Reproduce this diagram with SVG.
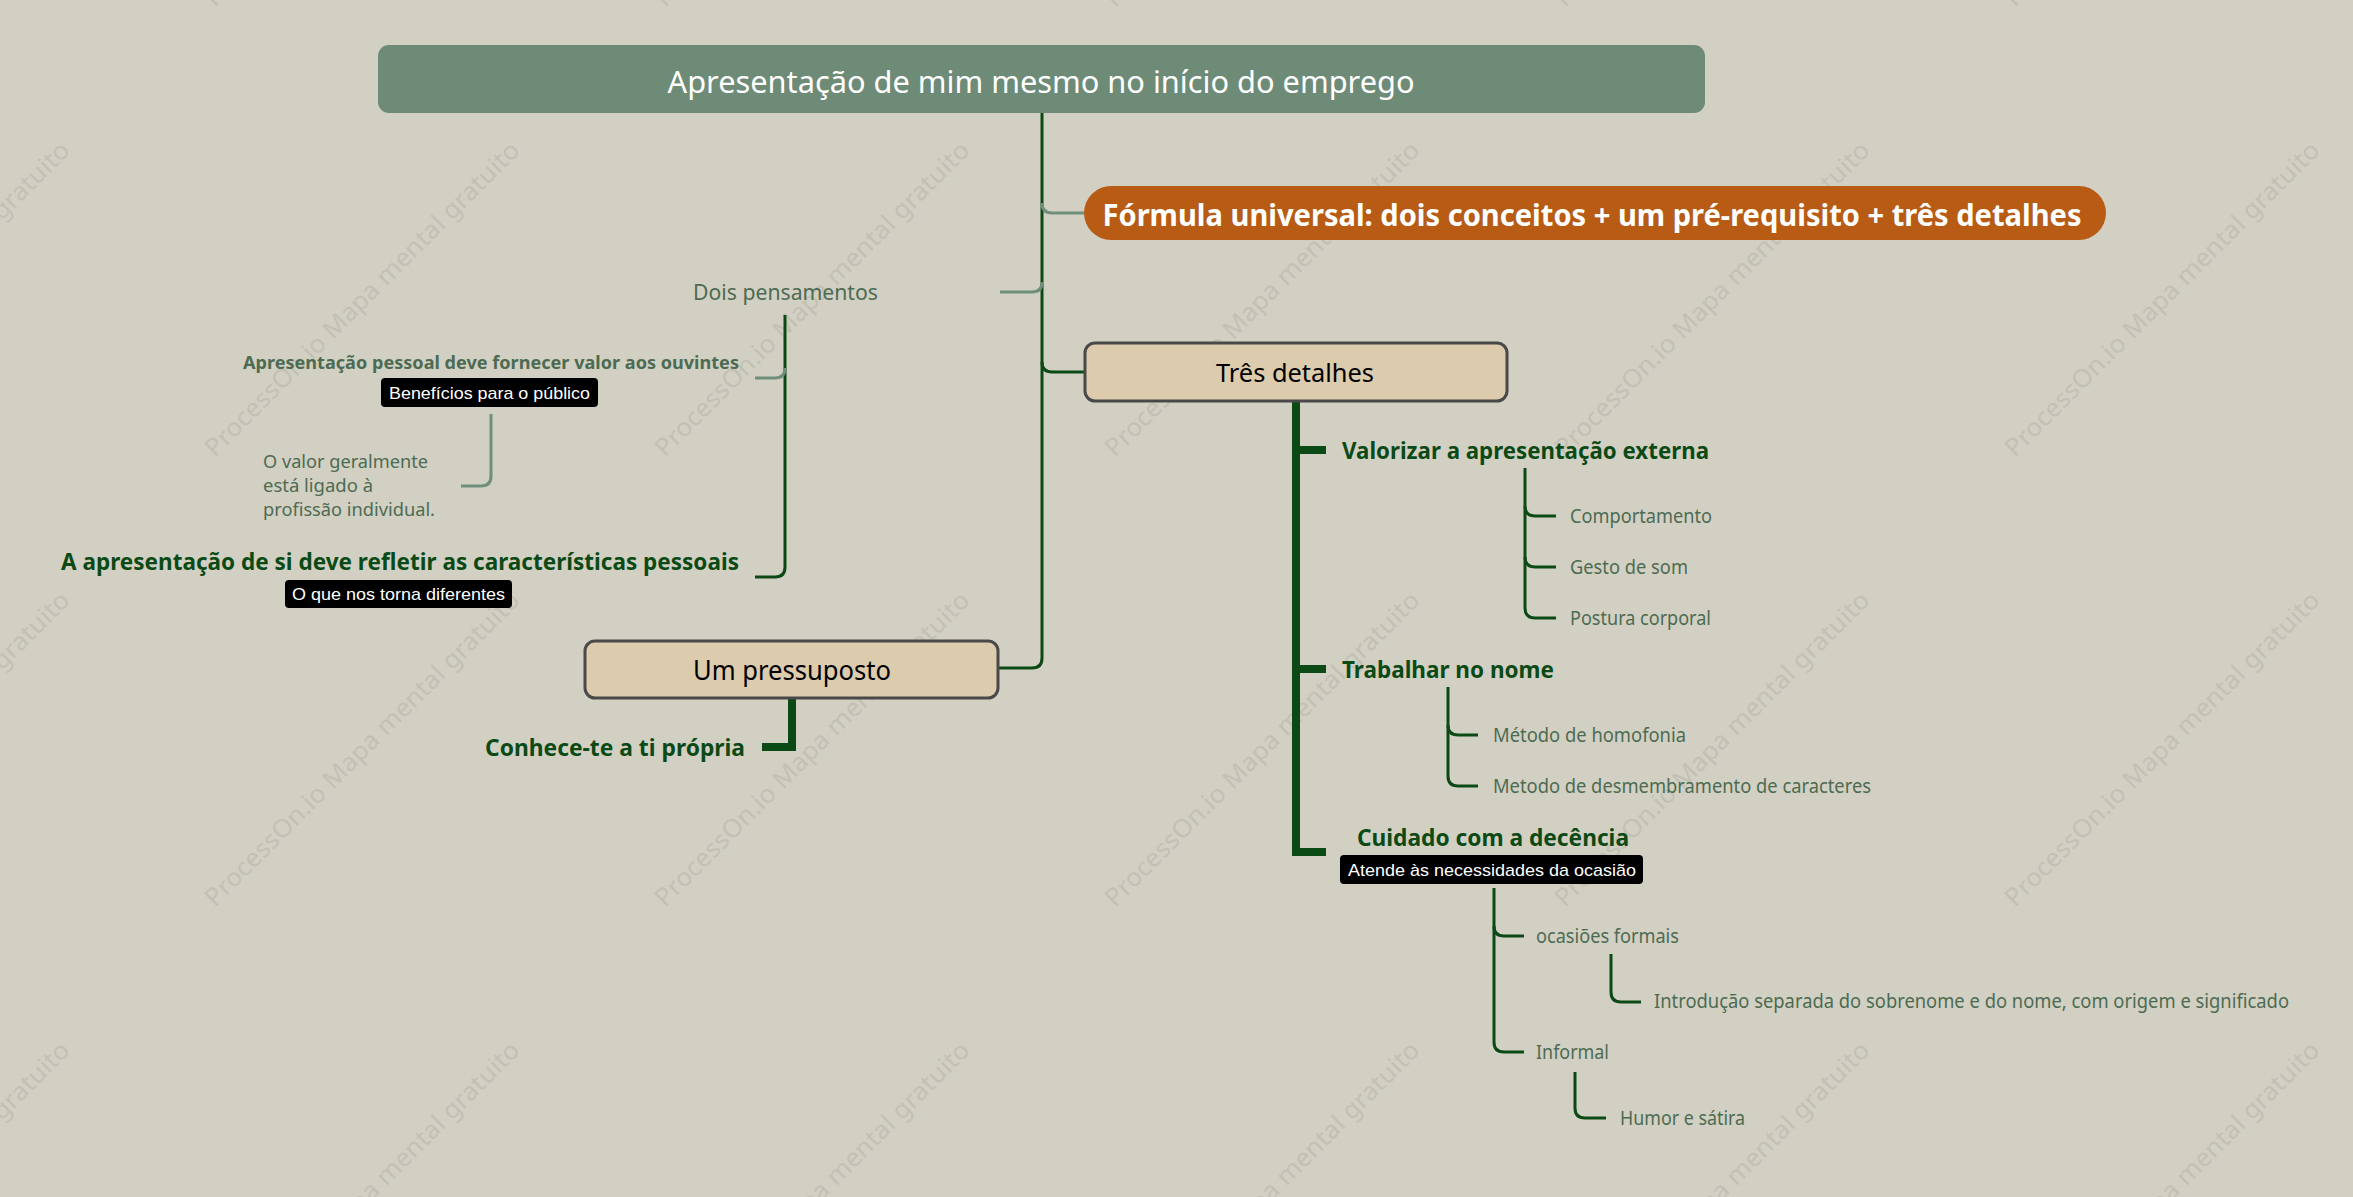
<svg xmlns="http://www.w3.org/2000/svg" width="2353" height="1197" viewBox="0 0 2353 1197">
<defs>
<style>
.bg{fill:#d2d0c3}
.wm{font-family:"Noto Sans","Open Sans",sans-serif;font-size:25px;fill:#bebcb0;opacity:0.75}
.t{font-family:"Noto Sans","Open Sans",sans-serif}
.b{font-weight:bold}
.dg{fill:#0c4a15}
.lg{fill:#4d6b52}
.tag{font-family:"Liberation Sans",Arial,sans-serif;font-size:17px;fill:#ffffff}
.tagbox{fill:#000000}
.sub{fill:#dccbad;stroke:#494949;stroke-width:3}
.cd{fill:none;stroke:#0c4a15;stroke-width:3}
.cl{fill:none;stroke:#6f8f7a;stroke-width:3}
.ct{fill:none;stroke:#0c4a15;stroke-width:8}
</style>
</defs>
<rect class="bg" x="0" y="0" width="2353" height="1197"/>
<g id="watermarks">
<text class="wm" transform="translate(-235,458) rotate(-45)" textLength="433" lengthAdjust="spacingAndGlyphs">ProcessOn.io Mapa mental gratuito</text>
<text class="wm" transform="translate(215,458) rotate(-45)" textLength="433" lengthAdjust="spacingAndGlyphs">ProcessOn.io Mapa mental gratuito</text>
<text class="wm" transform="translate(665,458) rotate(-45)" textLength="433" lengthAdjust="spacingAndGlyphs">ProcessOn.io Mapa mental gratuito</text>
<text class="wm" transform="translate(1115,458) rotate(-45)" textLength="433" lengthAdjust="spacingAndGlyphs">ProcessOn.io Mapa mental gratuito</text>
<text class="wm" transform="translate(1565,458) rotate(-45)" textLength="433" lengthAdjust="spacingAndGlyphs">ProcessOn.io Mapa mental gratuito</text>
<text class="wm" transform="translate(2015,458) rotate(-45)" textLength="433" lengthAdjust="spacingAndGlyphs">ProcessOn.io Mapa mental gratuito</text>
<text class="wm" transform="translate(-235,908) rotate(-45)" textLength="433" lengthAdjust="spacingAndGlyphs">ProcessOn.io Mapa mental gratuito</text>
<text class="wm" transform="translate(215,908) rotate(-45)" textLength="433" lengthAdjust="spacingAndGlyphs">ProcessOn.io Mapa mental gratuito</text>
<text class="wm" transform="translate(665,908) rotate(-45)" textLength="433" lengthAdjust="spacingAndGlyphs">ProcessOn.io Mapa mental gratuito</text>
<text class="wm" transform="translate(1115,908) rotate(-45)" textLength="433" lengthAdjust="spacingAndGlyphs">ProcessOn.io Mapa mental gratuito</text>
<text class="wm" transform="translate(1565,908) rotate(-45)" textLength="433" lengthAdjust="spacingAndGlyphs">ProcessOn.io Mapa mental gratuito</text>
<text class="wm" transform="translate(2015,908) rotate(-45)" textLength="433" lengthAdjust="spacingAndGlyphs">ProcessOn.io Mapa mental gratuito</text>
<text class="wm" transform="translate(-235,1358) rotate(-45)" textLength="433" lengthAdjust="spacingAndGlyphs">ProcessOn.io Mapa mental gratuito</text>
<text class="wm" transform="translate(215,1358) rotate(-45)" textLength="433" lengthAdjust="spacingAndGlyphs">ProcessOn.io Mapa mental gratuito</text>
<text class="wm" transform="translate(665,1358) rotate(-45)" textLength="433" lengthAdjust="spacingAndGlyphs">ProcessOn.io Mapa mental gratuito</text>
<text class="wm" transform="translate(1115,1358) rotate(-45)" textLength="433" lengthAdjust="spacingAndGlyphs">ProcessOn.io Mapa mental gratuito</text>
<text class="wm" transform="translate(1565,1358) rotate(-45)" textLength="433" lengthAdjust="spacingAndGlyphs">ProcessOn.io Mapa mental gratuito</text>
<text class="wm" transform="translate(2015,1358) rotate(-45)" textLength="433" lengthAdjust="spacingAndGlyphs">ProcessOn.io Mapa mental gratuito</text>
<text class="wm" transform="translate(215,8) rotate(-45)" textLength="433" lengthAdjust="spacingAndGlyphs">ProcessOn.io Mapa mental gratuito</text>
<text class="wm" transform="translate(665,8) rotate(-45)" textLength="433" lengthAdjust="spacingAndGlyphs">ProcessOn.io Mapa mental gratuito</text>
<text class="wm" transform="translate(1115,8) rotate(-45)" textLength="433" lengthAdjust="spacingAndGlyphs">ProcessOn.io Mapa mental gratuito</text>
<text class="wm" transform="translate(1565,8) rotate(-45)" textLength="433" lengthAdjust="spacingAndGlyphs">ProcessOn.io Mapa mental gratuito</text>
<text class="wm" transform="translate(2015,8) rotate(-45)" textLength="433" lengthAdjust="spacingAndGlyphs">ProcessOn.io Mapa mental gratuito</text>
</g>
<g id="connectors">
<path class="cd" d="M1042,113 L1042,658 Q1042,668 1032,668 L998,668"/>
<path class="cl" d="M1042,203 Q1042,213 1052,213 L1085,213"/>
<path class="cl" d="M1042,282 Q1042,292 1032,292 L1000,292"/>
<path class="cd" d="M1042,362 Q1042,372 1052,372 L1085,372"/>
<path class="cd" d="M785,315 L785,567 Q785,577 775,577 L755,577"/>
<path class="cl" d="M785,368 Q785,378 775,378 L755,378"/>
<path class="cl" d="M491,414 L491,476 Q491,486 481,486 L461,486"/>
<path class="ct" d="M792,698 L792,747 L762,747"/>
<path class="ct" d="M1296,401 L1296,852 L1326,852"/>
<path class="ct" d="M1296,450 L1326,450"/>
<path class="ct" d="M1296,669 L1326,669"/>
<path class="cd" d="M1525,468 L1525,608 Q1525,618 1535,618 L1556,618"/>
<path class="cd" d="M1525,506 Q1525,516 1535,516 L1556,516"/>
<path class="cd" d="M1525,557 Q1525,567 1535,567 L1556,567"/>
<path class="cd" d="M1448,687 L1448,776 Q1448,786 1458,786 L1478,786"/>
<path class="cd" d="M1448,725 Q1448,735 1458,735 L1478,735"/>
<path class="cd" d="M1494,888 L1494,1042 Q1494,1052 1504,1052 L1524,1052"/>
<path class="cd" d="M1494,926 Q1494,936 1504,936 L1524,936"/>
<path class="cd" d="M1611,954 L1611,992 Q1611,1002 1621,1002 L1641,1002"/>
<path class="cd" d="M1575,1072 L1575,1108 Q1575,1118 1585,1118 L1606,1118"/>
</g>
<g id="root">
<rect x="378" y="45" width="1327" height="68" rx="11" fill="#6d8b77"/>
<text class="t" x="1041" y="93" font-size="31" fill="#ffffff" text-anchor="middle" textLength="747" lengthAdjust="spacingAndGlyphs">Apresentação de mim mesmo no início do emprego</text>
</g>
<g id="formula">
<rect x="1084" y="186" width="1022" height="54" rx="27" fill="#b85b14"/>
<text class="t b" x="1592" y="226" font-size="30" fill="#ffffff" text-anchor="middle" textLength="979" lengthAdjust="spacingAndGlyphs">Fórmula universal: dois conceitos + um pré-requisito + três detalhes</text>
</g>
<g id="dois-pensamentos">
<text class="t lg" x="693" y="300" font-size="21" textLength="185" lengthAdjust="spacingAndGlyphs">Dois pensamentos</text>
</g>
<g id="apresentacao-pessoal">
<text class="t b lg" x="243" y="369" font-size="18.5" textLength="496" lengthAdjust="spacingAndGlyphs">Apresentação pessoal deve fornecer valor aos ouvintes</text>
<rect class="tagbox" x="381" y="378" width="217" height="29" rx="4"/>
<text class="tag" x="489.5" y="399" text-anchor="middle" textLength="201" lengthAdjust="spacingAndGlyphs">Benefícios para o público</text>
</g>
<g id="valor-geralmente">
<text class="t lg" x="263" y="468" font-size="18" textLength="165" lengthAdjust="spacingAndGlyphs">O valor geralmente</text>
<text class="t lg" x="263" y="492" font-size="18" textLength="110" lengthAdjust="spacingAndGlyphs">está ligado à</text>
<text class="t lg" x="263" y="516" font-size="18" textLength="172" lengthAdjust="spacingAndGlyphs">profissão individual.</text>
</g>
<g id="apresentacao-si">
<text class="t b dg" x="61" y="570" font-size="24" textLength="678" lengthAdjust="spacingAndGlyphs">A apresentação de si deve refletir as características pessoais</text>
<rect class="tagbox" x="285" y="580" width="227" height="28" rx="4"/>
<text class="tag" x="398.5" y="600" text-anchor="middle" textLength="213" lengthAdjust="spacingAndGlyphs">O que nos torna diferentes</text>
</g>
<g id="um-pressuposto">
<rect class="sub" x="585" y="641" width="413" height="57" rx="10"/>
<text class="t" x="792" y="680" font-size="27" fill="#000000" text-anchor="middle" textLength="198" lengthAdjust="spacingAndGlyphs">Um pressuposto</text>
</g>
<g id="conhece-te">
<text class="t b dg" x="485" y="756" font-size="24" textLength="260" lengthAdjust="spacingAndGlyphs">Conhece-te a ti própria</text>
</g>
<g id="tres-detalhes">
<rect class="sub" x="1085" y="343" width="422" height="58" rx="10"/>
<text class="t" x="1295" y="382" font-size="26" fill="#000000" text-anchor="middle" textLength="158" lengthAdjust="spacingAndGlyphs">Três detalhes</text>
</g>
<g id="valorizar">
<text class="t b dg" x="1342" y="459" font-size="24" textLength="367" lengthAdjust="spacingAndGlyphs">Valorizar a apresentação externa</text>
</g>
<g id="comportamento"><text class="t lg" x="1570" y="523" font-size="20" textLength="142" lengthAdjust="spacingAndGlyphs">Comportamento</text></g>
<g id="gesto"><text class="t lg" x="1570" y="574" font-size="20" textLength="118" lengthAdjust="spacingAndGlyphs">Gesto de som</text></g>
<g id="postura"><text class="t lg" x="1570" y="625" font-size="20" textLength="141" lengthAdjust="spacingAndGlyphs">Postura corporal</text></g>
<g id="trabalhar">
<text class="t b dg" x="1342" y="678" font-size="24" textLength="212" lengthAdjust="spacingAndGlyphs">Trabalhar no nome</text>
</g>
<g id="homofonia"><text class="t lg" x="1493" y="742" font-size="20" textLength="193" lengthAdjust="spacingAndGlyphs">Método de homofonia</text></g>
<g id="desmembramento"><text class="t lg" x="1493" y="793" font-size="20" textLength="378" lengthAdjust="spacingAndGlyphs">Metodo de desmembramento de caracteres</text></g>
<g id="cuidado">
<text class="t b dg" x="1357" y="846" font-size="24" textLength="272" lengthAdjust="spacingAndGlyphs">Cuidado com a decência</text>
<rect class="tagbox" x="1340" y="855" width="303" height="29" rx="4"/>
<text class="tag" x="1492" y="876" text-anchor="middle" textLength="288" lengthAdjust="spacingAndGlyphs">Atende às necessidades da ocasião</text>
</g>
<g id="ocasioes-formais"><text class="t lg" x="1536" y="943" font-size="20" textLength="143" lengthAdjust="spacingAndGlyphs">ocasiões formais</text></g>
<g id="introducao"><text class="t lg" x="1654" y="1008" font-size="20" textLength="635" lengthAdjust="spacingAndGlyphs">Introdução separada do sobrenome e do nome, com origem e significado</text></g>
<g id="informal"><text class="t lg" x="1536" y="1059" font-size="20" textLength="73" lengthAdjust="spacingAndGlyphs">Informal</text></g>
<g id="humor"><text class="t lg" x="1620" y="1125" font-size="20" textLength="125" lengthAdjust="spacingAndGlyphs">Humor e sátira</text></g>
</svg>
